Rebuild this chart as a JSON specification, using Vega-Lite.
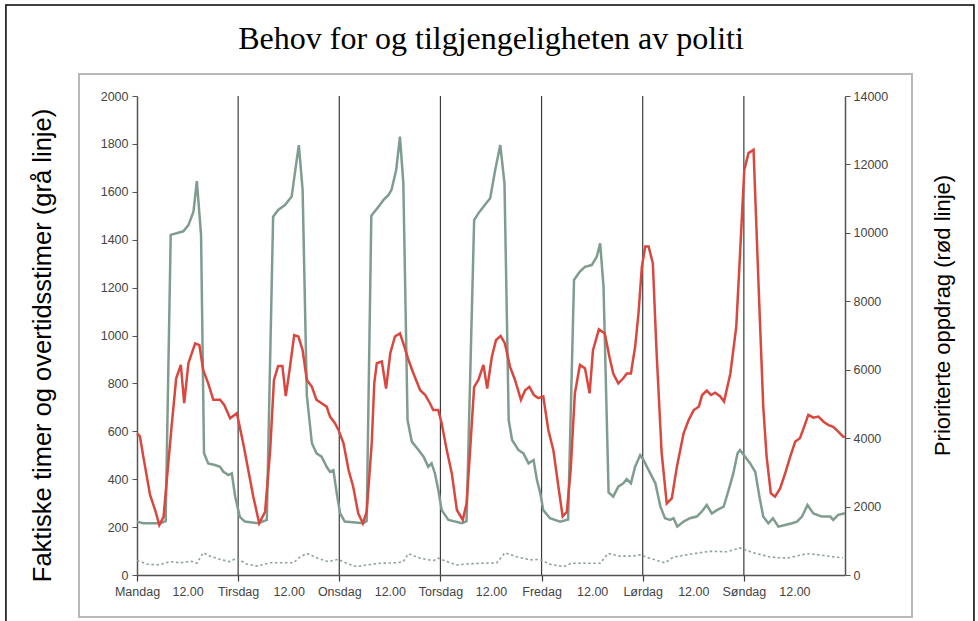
{
  "$schema": "https://vega.github.io/schema/vega-lite/v6.json",
  "autosize": "none",
  "width": 708,
  "height": 479,
  "padding": {"left": 137, "top": 96, "right": 133, "bottom": 46},
  "background": "#ffffff",
  "config": {"view": {"stroke": null}},
  "title": {
    "text": "Behov for og tilgjengeligheten  av politi",
    "font": "Liberation Serif",
    "fontSize": 32,
    "fontWeight": "normal",
    "color": "#000000",
    "anchor": "middle",
    "frame": "group",
    "offset": -52
  },
  "datasets": {
    "one": [{}],
    "days": [{"h": 24}, {"h": 48}, {"h": 72}, {"h": 96}, {"h": 120}, {"h": 144}],
    "gray": [
      {"h": 0, "v": 223}, {"h": 1.5, "v": 216}, {"h": 5.5, "v": 216}, {"h": 6.8, "v": 225}, {"h": 8.0, "v": 1420}, {"h": 11, "v": 1435}, {"h": 12.2, "v": 1461}, {"h": 13.4, "v": 1517}, {"h": 14.2, "v": 1645}, {"h": 15.2, "v": 1420}, {"h": 15.9, "v": 508}, {"h": 16.9, "v": 466}, {"h": 18.5, "v": 459}, {"h": 19.7, "v": 452}, {"h": 20.5, "v": 431}, {"h": 21.7, "v": 417}, {"h": 22.5, "v": 424}, {"h": 23.3, "v": 327}, {"h": 24.4, "v": 243},
      {"h": 25.6, "v": 223}, {"h": 28.8, "v": 216}, {"h": 30.8, "v": 230}, {"h": 32.3, "v": 1496}, {"h": 33.5, "v": 1524}, {"h": 35.1, "v": 1545}, {"h": 36.7, "v": 1580}, {"h": 37.9, "v": 1733}, {"h": 38.4, "v": 1795}, {"h": 39.3, "v": 1608}, {"h": 40.3, "v": 750}, {"h": 41.5, "v": 550}, {"h": 42.6, "v": 508}, {"h": 43.8, "v": 494}, {"h": 45, "v": 452}, {"h": 45.8, "v": 431}, {"h": 46.6, "v": 438}, {"h": 47.4, "v": 341}, {"h": 48.2, "v": 257},
      {"h": 49.3, "v": 223}, {"h": 53.7, "v": 216}, {"h": 54.5, "v": 225}, {"h": 55.6, "v": 1500}, {"h": 57.3, "v": 1538}, {"h": 58.5, "v": 1566}, {"h": 59.7, "v": 1587}, {"h": 60.4, "v": 1608}, {"h": 61.5, "v": 1691}, {"h": 62.4, "v": 1830}, {"h": 63.2, "v": 1635}, {"h": 64.2, "v": 647}, {"h": 65.2, "v": 557}, {"h": 66.8, "v": 522}, {"h": 68, "v": 494}, {"h": 69.1, "v": 452}, {"h": 69.9, "v": 466}, {"h": 70.7, "v": 424}, {"h": 71.5, "v": 355}, {"h": 72.3, "v": 271},
      {"h": 73.9, "v": 230}, {"h": 77.1, "v": 216}, {"h": 78.2, "v": 225}, {"h": 80, "v": 1482}, {"h": 81, "v": 1510}, {"h": 82.2, "v": 1538}, {"h": 83.8, "v": 1573}, {"h": 85, "v": 1691}, {"h": 86.2, "v": 1795}, {"h": 87.2, "v": 1635}, {"h": 88.2, "v": 647}, {"h": 89, "v": 564}, {"h": 90.5, "v": 522}, {"h": 91.7, "v": 508}, {"h": 92.9, "v": 466}, {"h": 94.1, "v": 480}, {"h": 94.9, "v": 397}, {"h": 95.7, "v": 341}, {"h": 96.4, "v": 271},
      {"h": 98, "v": 237}, {"h": 100.4, "v": 223}, {"h": 102.3, "v": 232}, {"h": 103.7, "v": 1232}, {"h": 105.1, "v": 1267}, {"h": 106.3, "v": 1287}, {"h": 107.9, "v": 1294}, {"h": 109.1, "v": 1329}, {"h": 109.9, "v": 1385}, {"h": 110.7, "v": 1204}, {"h": 111.9, "v": 345}, {"h": 113, "v": 327}, {"h": 114.2, "v": 369}, {"h": 115.4, "v": 383}, {"h": 116.2, "v": 400}, {"h": 117.2, "v": 383}, {"h": 118.2, "v": 452}, {"h": 119.4, "v": 501},
      {"h": 120.2, "v": 480}, {"h": 121.4, "v": 438}, {"h": 123, "v": 383}, {"h": 124.2, "v": 285}, {"h": 125.3, "v": 237}, {"h": 126.5, "v": 230}, {"h": 127.3, "v": 237}, {"h": 128.2, "v": 202}, {"h": 129.7, "v": 223}, {"h": 131.2, "v": 237}, {"h": 132.8, "v": 244}, {"h": 134, "v": 264}, {"h": 135.2, "v": 292}, {"h": 136.4, "v": 257}, {"h": 137.6, "v": 271}, {"h": 139.2, "v": 285}, {"h": 140.4, "v": 355}, {"h": 141.5, "v": 424}, {"h": 142.5, "v": 508}, {"h": 143.1, "v": 522},
      {"h": 144.3, "v": 494}, {"h": 145.5, "v": 466}, {"h": 146.7, "v": 431}, {"h": 147.7, "v": 327}, {"h": 148.6, "v": 244}, {"h": 149.8, "v": 216}, {"h": 150.9, "v": 237}, {"h": 152.2, "v": 202}, {"h": 153.8, "v": 209}, {"h": 155.4, "v": 216}, {"h": 156.6, "v": 223}, {"h": 157.8, "v": 244}, {"h": 159.1, "v": 292}, {"h": 160.5, "v": 257}, {"h": 162.5, "v": 244}, {"h": 164.5, "v": 244}, {"h": 165.2, "v": 230}, {"h": 166.4, "v": 251}, {"h": 168, "v": 258}
    ],
    "dashed": [
      {"h": 0, "v": 60}, {"h": 1, "v": 55}, {"h": 2.3, "v": 46}, {"h": 4.7, "v": 42}, {"h": 6, "v": 46}, {"h": 7.8, "v": 56}, {"h": 10.2, "v": 51}, {"h": 13, "v": 57}, {"h": 14.2, "v": 49}, {"h": 15.7, "v": 93}, {"h": 17.3, "v": 79}, {"h": 19.7, "v": 65}, {"h": 22, "v": 56}, {"h": 23.6, "v": 70},
      {"h": 26, "v": 46}, {"h": 28.4, "v": 37}, {"h": 31.6, "v": 51}, {"h": 37.1, "v": 51}, {"h": 38.7, "v": 75}, {"h": 40.3, "v": 90}, {"h": 42.9, "v": 70}, {"h": 45.3, "v": 56}, {"h": 47.8, "v": 65},
      {"h": 49.7, "v": 49}, {"h": 52.1, "v": 35}, {"h": 54.5, "v": 42}, {"h": 57.7, "v": 49}, {"h": 61.6, "v": 51}, {"h": 63.2, "v": 56}, {"h": 64.4, "v": 89}, {"h": 67.2, "v": 70}, {"h": 70.3, "v": 60}, {"h": 71.5, "v": 70},
      {"h": 73.5, "v": 56}, {"h": 75.9, "v": 42}, {"h": 78.2, "v": 46}, {"h": 81.4, "v": 49}, {"h": 85.4, "v": 51}, {"h": 87.3, "v": 93}, {"h": 90.1, "v": 76}, {"h": 93.3, "v": 63}, {"h": 95.2, "v": 65},
      {"h": 96.4, "v": 60}, {"h": 97.6, "v": 46}, {"h": 101.2, "v": 35}, {"h": 103, "v": 49}, {"h": 109.9, "v": 49}, {"h": 111.8, "v": 90}, {"h": 114.5, "v": 79}, {"h": 117.6, "v": 79}, {"h": 119.4, "v": 84},
      {"h": 121.7, "v": 70}, {"h": 125.3, "v": 51}, {"h": 127.3, "v": 75}, {"h": 132, "v": 89}, {"h": 136, "v": 99}, {"h": 140, "v": 97}, {"h": 143.1, "v": 113}, {"h": 146.2, "v": 93}, {"h": 150.2, "v": 75}, {"h": 154.2, "v": 70}, {"h": 158.9, "v": 89}, {"h": 162, "v": 84}, {"h": 165.6, "v": 75}, {"h": 167.5, "v": 72}
    ],
    "red": [
      {"h": 0, "v": 4140}, {"h": 0.7, "v": 4050}, {"h": 1.5, "v": 3460}, {"h": 3.1, "v": 2340}, {"h": 4.3, "v": 1900}, {"h": 5.3, "v": 1460}, {"h": 6.3, "v": 1700}, {"h": 7, "v": 2680}, {"h": 8.2, "v": 4330}, {"h": 9.3, "v": 5750}, {"h": 10.4, "v": 6140}, {"h": 11.2, "v": 5020}, {"h": 12.2, "v": 6190}, {"h": 13.8, "v": 6770}, {"h": 14.8, "v": 6720}, {"h": 15.7, "v": 5990}, {"h": 16.9, "v": 5600}, {"h": 18.1, "v": 5120}, {"h": 19.7, "v": 5120}, {"h": 20.7, "v": 4970}, {"h": 22.1, "v": 4580}, {"h": 23.7, "v": 4730},
      {"h": 25.2, "v": 3850}, {"h": 26.4, "v": 3070}, {"h": 27.6, "v": 2290}, {"h": 29, "v": 1510}, {"h": 30.4, "v": 1850}, {"h": 31.6, "v": 3650}, {"h": 32.5, "v": 5700}, {"h": 33.5, "v": 6110}, {"h": 34.5, "v": 6110}, {"h": 35.3, "v": 5230}, {"h": 36.2, "v": 5990}, {"h": 37.3, "v": 7010}, {"h": 38.3, "v": 6970}, {"h": 39.3, "v": 6570}, {"h": 40.3, "v": 5700}, {"h": 41.5, "v": 5500}, {"h": 42.6, "v": 5120}, {"h": 43.8, "v": 5020}, {"h": 45, "v": 4920}, {"h": 45.8, "v": 4630}, {"h": 47, "v": 4430}, {"h": 47.8, "v": 4240},
      {"h": 49, "v": 3850}, {"h": 50.2, "v": 3070}, {"h": 51.3, "v": 2580}, {"h": 52.5, "v": 1800}, {"h": 53.6, "v": 1510}, {"h": 54.5, "v": 1850}, {"h": 55.7, "v": 3850}, {"h": 56.3, "v": 5600}, {"h": 56.9, "v": 6190}, {"h": 58.1, "v": 6240}, {"h": 59.1, "v": 5450}, {"h": 60.1, "v": 6480}, {"h": 61.2, "v": 6970}, {"h": 62.4, "v": 7060}, {"h": 63.2, "v": 6770}, {"h": 64.4, "v": 6290}, {"h": 65.6, "v": 5890}, {"h": 67.2, "v": 5400}, {"h": 68.4, "v": 5260}, {"h": 69.5, "v": 5020}, {"h": 70.3, "v": 4820}, {"h": 71.5, "v": 4820},
      {"h": 72.3, "v": 4430}, {"h": 73.5, "v": 3650}, {"h": 74.7, "v": 2970}, {"h": 75.9, "v": 1900}, {"h": 77.3, "v": 1610}, {"h": 78.2, "v": 2090}, {"h": 79, "v": 3560}, {"h": 80, "v": 5500}, {"h": 81, "v": 5700}, {"h": 82.2, "v": 6140}, {"h": 83.1, "v": 5450}, {"h": 84.2, "v": 6380}, {"h": 85.2, "v": 6870}, {"h": 86.3, "v": 6990}, {"h": 87.3, "v": 6770}, {"h": 88.5, "v": 6090}, {"h": 89.7, "v": 5700}, {"h": 91.1, "v": 5120}, {"h": 92.1, "v": 5400}, {"h": 93.1, "v": 5500}, {"h": 94.2, "v": 5260}, {"h": 95.2, "v": 5170},
      {"h": 96.4, "v": 5220}, {"h": 97.6, "v": 4240}, {"h": 98.8, "v": 3650}, {"h": 100, "v": 2580}, {"h": 101, "v": 1710}, {"h": 102, "v": 1850}, {"h": 102.9, "v": 3070}, {"h": 103.9, "v": 5310}, {"h": 105.1, "v": 6140}, {"h": 106.3, "v": 6040}, {"h": 107.4, "v": 5310}, {"h": 108.2, "v": 6570}, {"h": 109.6, "v": 7180}, {"h": 111, "v": 7060}, {"h": 112.1, "v": 6380}, {"h": 113, "v": 5890}, {"h": 114.2, "v": 5600}, {"h": 115.4, "v": 5750}, {"h": 116.2, "v": 5890}, {"h": 117.2, "v": 5890}, {"h": 118.2, "v": 6670}, {"h": 119, "v": 7650},
      {"h": 119.8, "v": 9010}, {"h": 120.6, "v": 9600}, {"h": 121.4, "v": 9600}, {"h": 122.4, "v": 9110}, {"h": 123.3, "v": 6480}, {"h": 124.5, "v": 3560}, {"h": 125.7, "v": 2090}, {"h": 126.9, "v": 2240}, {"h": 128.1, "v": 3160}, {"h": 129.7, "v": 4140}, {"h": 130.9, "v": 4530}, {"h": 132.1, "v": 4820}, {"h": 133.3, "v": 4920}, {"h": 134.1, "v": 5260}, {"h": 135.2, "v": 5390}, {"h": 136.2, "v": 5260}, {"h": 137.2, "v": 5330}, {"h": 138.4, "v": 5220}, {"h": 139.3, "v": 5070}, {"h": 140.8, "v": 5890}, {"h": 142.2, "v": 7260}, {"h": 143.1, "v": 9400},
      {"h": 144.1, "v": 11840}, {"h": 145.1, "v": 12330}, {"h": 146.3, "v": 12430}, {"h": 147.5, "v": 8430}, {"h": 148.6, "v": 4920}, {"h": 149.4, "v": 3460}, {"h": 150.4, "v": 2390}, {"h": 151.4, "v": 2290}, {"h": 152.6, "v": 2530}, {"h": 153.8, "v": 2970}, {"h": 155, "v": 3460}, {"h": 156.2, "v": 3900}, {"h": 157.3, "v": 4000}, {"h": 158.3, "v": 4330}, {"h": 159.3, "v": 4680}, {"h": 160.5, "v": 4600}, {"h": 161.7, "v": 4630}, {"h": 162.9, "v": 4480}, {"h": 164.1, "v": 4380}, {"h": 165.2, "v": 4330}, {"h": 166.4, "v": 4190}, {"h": 167.5, "v": 4050}, {"h": 168, "v": 4030}
    ]
  },
  "layer": [
    {
      "layer": [
        {
          "data": {"name": "one"},
          "mark": {"type": "rect", "fill": "transparent", "stroke": "#000000", "strokeWidth": 1.5},
          "encoding": {
            "x": {"datum": -31.1, "type": "quantitative", "scale": {"domain": [0, 168], "nice": false, "zero": false}},
            "x2": {"datum": 198.6},
            "y": {"datum": 2380, "type": "quantitative"},
            "y2": {"datum": -230}
          }
        },
        {
          "data": {"name": "one"},
          "mark": {"type": "rect", "fill": "transparent", "stroke": "#b8b8b8", "strokeWidth": 2},
          "encoding": {
            "x": {"datum": -13.76, "type": "quantitative"},
            "x2": {"datum": 183.9},
            "y": {"datum": 2092, "type": "quantitative"},
            "y2": {"datum": -175}
          }
        },
        {
          "data": {"name": "days"},
          "mark": {"type": "rule", "color": "#3c3c3c", "strokeWidth": 1.2},
          "encoding": {
            "x": {"field": "h", "type": "quantitative"},
            "y": {"datum": 0, "type": "quantitative"},
            "y2": {"datum": 2000}
          }
        },
        {
          "data": {"name": "dashed"},
          "mark": {"type": "line", "color": "#8fa398", "strokeWidth": 1.6, "strokeDash": [2.5, 2.5]},
          "encoding": {
            "x": {"field": "h", "type": "quantitative"},
            "y": {"field": "v", "type": "quantitative"}
          }
        },
        {
          "data": {"name": "gray"},
          "mark": {"type": "line", "color": "#7f9d8f", "strokeWidth": 2.5},
          "encoding": {
            "x": {
              "field": "h",
              "type": "quantitative",
              "scale": {"domain": [0, 168], "nice": false, "zero": false},
              "axis": {
                "title": null,
                "values": [0, 12, 24, 36, 48, 60, 72, 84, 96, 108, 120, 132, 144, 156],
                "labelExpr": "datum.value % 24 === 0 ? ['Mandag','Tirsdag','Onsdag','Torsdag','Fredag','Lørdag','Søndag'][datum.value / 24] : '12.00'",
                "labelFlush": false,
                "labelOverlap": false,
                "labelBound": false,
                "labelFont": "Liberation Sans",
                "labelFontSize": 12.5,
                "labelColor": "#444444",
                "labelPadding": 4,
                "domainColor": "#555555",
                "domainWidth": 1.5,
                "tickSize": 6,
                "tickWidth": 1.2,
                "tickColor": {"condition": {"test": "datum.value % 24 === 0", "value": "#3c3c3c"}, "value": "transparent"},
                "grid": false
              }
            },
            "y": {
              "field": "v",
              "type": "quantitative",
              "scale": {"domain": [0, 2000], "nice": false, "zero": true},
              "axis": {
                "title": "Faktiske timer og overtidsstimer (grå linje)",
                "titleFont": "Liberation Sans",
                "titleFontSize": 25.5,
                "titleFontWeight": "normal",
                "titleColor": "#000000",
                "titleAngle": 270,
                "titleAlign": "center",
                "titleBaseline": "middle",
                "titleX": -95,
                "titleY": 249,
                "values": [0, 200, 400, 600, 800, 1000, 1200, 1400, 1600, 1800, 2000],
                "format": "d",
                "labelFont": "Liberation Sans",
                "labelFontSize": 12.5,
                "labelColor": "#444444",
                "labelPadding": 4,
                "domainColor": "#555555",
                "domainWidth": 1.5,
                "tickColor": "#555555",
                "tickSize": 5,
                "grid": false
              }
            }
          }
        }
      ]
    },
    {
      "data": {"name": "red"},
      "mark": {"type": "line", "color": "#d9473f", "strokeWidth": 2.5},
      "encoding": {
        "x": {"field": "h", "type": "quantitative"},
        "y": {
          "field": "v",
          "type": "quantitative",
          "scale": {"domain": [0, 14000], "nice": false, "zero": true},
          "axis": {
            "orient": "right",
            "title": "Prioriterte oppdrag (rød linje)",
            "titleFont": "Liberation Sans",
            "titleFontSize": 22,
            "titleFontWeight": "normal",
            "titleColor": "#000000",
            "titleAngle": 270,
            "titleAlign": "center",
            "titleBaseline": "middle",
            "titleX": 97,
            "titleY": 219,
            "values": [0, 2000, 4000, 6000, 8000, 10000, 12000, 14000],
            "format": "d",
            "labelFont": "Liberation Sans",
            "labelFontSize": 12.5,
            "labelColor": "#444444",
            "labelPadding": 3,
            "domainColor": "#555555",
            "domainWidth": 1.5,
            "tickColor": "#555555",
            "tickSize": 5,
            "grid": false
          }
        }
      }
    }
  ],
  "resolve": {"scale": {"y": "independent"}}
}
